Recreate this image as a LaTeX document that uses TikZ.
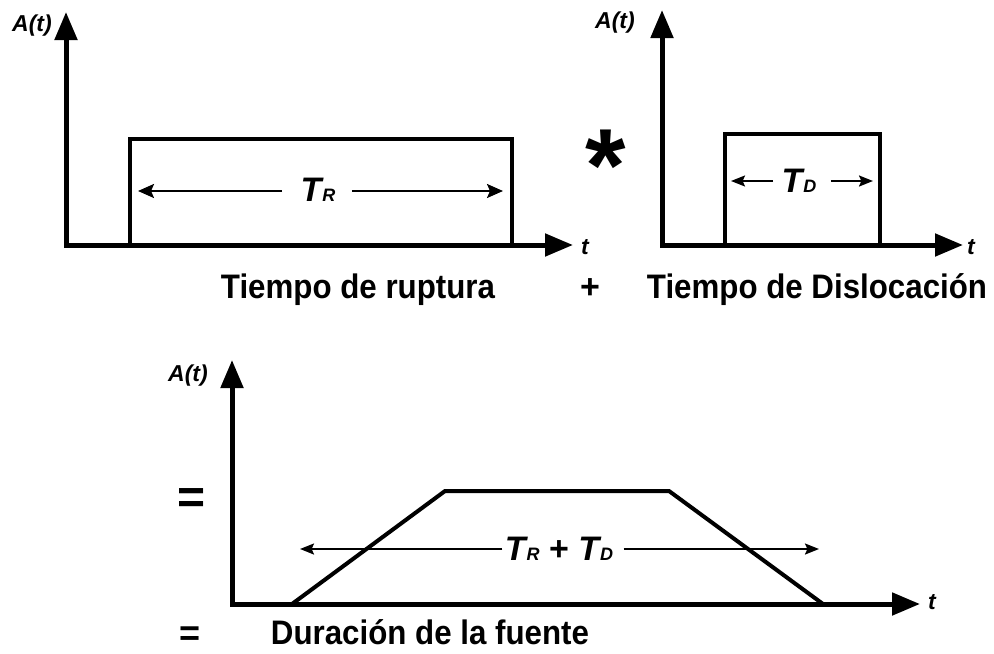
\documentclass[tikz,border=0pt]{standalone}
\usepackage{fontspec}
\usepackage{graphicx}
\setmainfont{Liberation Sans}
\usetikzlibrary{arrows.meta}
\newcommand{\hsq}[1]{\scalebox{0.92}[1]{#1}}
\newcommand{\Tsym}[1]{\textit{\bfseries T\kern0.5pt{\fontsize{9}{9}\selectfont #1}}}
\begin{document}
\begin{tikzpicture}[x=0.5pt,y=-0.5pt,
  axis/.style={line width=2.5pt, line join=miter,
    {Triangle[length=14pt,width=11pt]}-{Triangle[length=14pt,width=11pt]}},
  pulse/.style={line width=2.2pt, line join=miter},
  span/.style={line width=1pt, -{Stealth[length=8pt,width=7pt,inset=1.5pt]}},
  spans/.style={line width=1pt, -{Stealth[length=7pt,width=5.5pt,inset=1.2pt]}},
  lbl/.style={inner sep=0pt, font=\fontsize{17}{19}\selectfont\bfseries, anchor=base},
  axlbl/.style={inner sep=0pt, font=\fontsize{11.5}{12}\selectfont\bfseries\itshape},
  tlbl/.style={inner sep=0pt, font=\fontsize{17}{18}\selectfont\bfseries},
  op/.style={inner sep=0pt, font=\bfseries, anchor=north}]
\useasboundingbox (0,0) rectangle (994,653);

% ---------- panel 1 ----------
\coordinate (y1) at (66,12);
\coordinate (x1) at (573,245);
\draw[axis] (y1) |- (x1);
\node[axlbl] (A1) at (32,26) {A(t)};
\node[axlbl] (t1) at (585,247) {t};
\draw[pulse] (130,245) -- (130,139) -- (512,139) -- (512,245);
\node[tlbl] (TR) at (318,190) {\Tsym{R}};
\coordinate (TRl) at (138,191);
\coordinate (TRr) at (503,191);
\draw[span] ([xshift=-9pt]TR.west |- TRl) -- (TRl);
\draw[span] ([xshift=8pt]TR.east |- TRr) -- (TRr);
\node[lbl] (rup) at (358,298) {\hsq{Tiempo de ruptura}};

% ---------- operators ----------
\node[op, font=\fontsize{52}{52}\selectfont\bfseries] (conv) at (606,130) {*};
\node[op, font=\fontsize{17}{17}\selectfont\bfseries, anchor=base] (plus) at (590,298) {+};

% ---------- panel 2 ----------
\coordinate (y2) at (662,10);
\coordinate (x2) at (963,245);
\draw[axis] (y2) |- (x2);
\node[axlbl] (A2) at (615,23) {A(t)};
\node[axlbl] (t2) at (971,247) {t};
\draw[pulse] (725,245) -- (725,134) -- (880,134) -- (880,245);
\node[tlbl] (TD) at (799,181) {\Tsym{D}};
\coordinate (TDl) at (731,181);
\coordinate (TDr) at (873,181);
\draw[spans] ([xshift=-4pt]TD.west |- TDl) -- (TDl);
\draw[spans] ([xshift=7pt]TD.east |- TDr) -- (TDr);
\node[lbl] (dis) at (817,298) {\hsq{Tiempo de Dislocación}};

% ---------- panel 3 ----------
\coordinate (y3) at (232,360);
\coordinate (x3) at (920,604);
\draw[axis] (y3) |- (x3);
\node[axlbl] (A3) at (188,376) {A(t)};
\node[axlbl] (t3) at (932,602) {t};
\draw[pulse, line width=2pt] (292,604) -- (445,491) -- (669,491) -- (823,604);
\node[tlbl] (TRD) at (559,549) {\Tsym{R} + \Tsym{D}};
\coordinate (TRDl) at (300,549);
\coordinate (TRDr) at (819,549);
\draw[spans] ([xshift=-1pt]TRD.west |- TRDl) -- (TRDl);
\draw[spans] ([xshift=5pt]TRD.east |- TRDr) -- (TRDr);
\node[op, font=\fontsize{24}{24}\selectfont\bfseries] (eq1) at (192,488) {=};
\node[op, font=\fontsize{18}{18}\selectfont\bfseries] (eq2) at (190,626) {=};
\node[lbl] (dur) at (430,644) {\hsq{Duración de la fuente}};
\end{tikzpicture}
\end{document}
